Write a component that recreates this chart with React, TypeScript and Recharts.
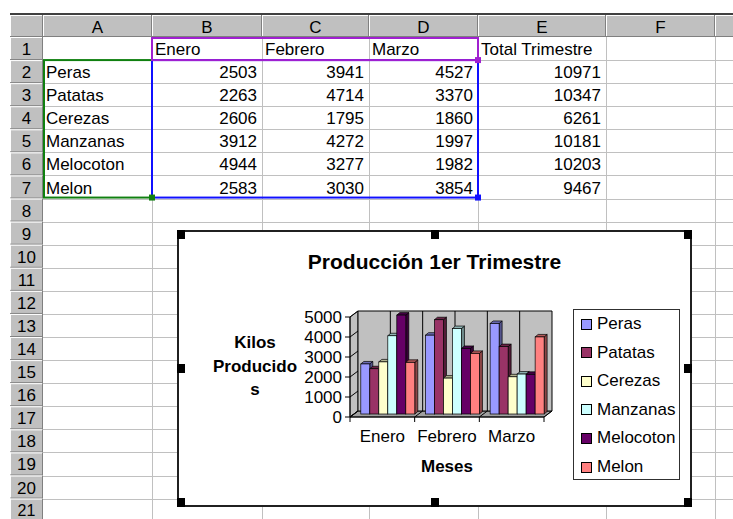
import React from 'react';
import { BarChart, Bar, XAxis, YAxis, CartesianGrid, Legend } from 'recharts';

// ---------- data ----------
const months = ['Enero', 'Febrero', 'Marzo'];
const products = ['Peras', 'Patatas', 'Cerezas', 'Manzanas', 'Melocoton', 'Melon'];
const eneroValues = [2503, 2263, 2606, 3912, 4944, 2583];
const febreroValues = [3941, 4714, 1795, 4272, 3277, 3030];
const marzoValues = [4527, 3370, 1860, 1997, 1982, 3854];
const totalValues = [10971, 10347, 6261, 10181, 10203, 9467];
const yTicks = [0, 1000, 2000, 3000, 4000, 5000];
const columnLetters = ['A', 'B', 'C', 'D', 'E', 'F', ''];
const rowNumbers = Array.from({ length: 21 }, (_, i) => i + 1);
const seriesColors = ['#9999FF', '#993366', '#FFFFCC', '#CCFFFF', '#660066', '#FF8080'];
const chartTitle = 'Producción 1er Trimestre';
const yTitleLines = ['Kilos', 'Producido', 's'];
const xTitle = 'Meses';
const totalHeader = 'Total Trimestre';

const monthValues = [eneroValues, febreroValues, marzoValues];
const chartData = months.map((m, i) => {
  const row: Record<string, string | number> = { month: m };
  products.forEach((p, j) => {
    row[p] = monthValues[i][j];
  });
  return row;
});

// ---------- layout ----------
const FONT = '"Liberation Sans", Arial, sans-serif';
const COL_EDGES = [10, 43, 152, 262, 369, 478, 606, 715, 760];
const HEADER_TOP = 15;
const HEADER_BOTTOM = 37;
const ROW_H = 23.08;
const rowTop = (r: number) => HEADER_BOTTOM + (r - 1) * ROW_H;

const FX = 177;
const FY = 230;
const FW = 515;
const FH = 277;
const PL = 173;
const PT = 87;
const PW = 194;
const PH = 100;
const DX = 8;
const DY = 6;
const BAR_DX = 4;
const BAR_DY = 3;
const AXIS_W = 60;
const XAXIS_H = 30;

function shade(hex: string, f: number) {
  const n = parseInt(hex.slice(1), 16);
  const r = Math.round(((n >> 16) & 255) * f);
  const g = Math.round(((n >> 8) & 255) * f);
  const b = Math.round((n & 255) * f);
  return `rgb(${r},${g},${b})`;
}

const Bar3D = (props: any) => {
  const { x, y, width, height, fill } = props;
  if (x == null || y == null || !width) return null;
  const fx = x + BAR_DX;
  const fy = y - BAR_DY;
  const d = 3;
  const d2 = 2.5;
  return (
    <g>
      <polygon
        points={`${fx + width},${fy} ${fx + width + d},${fy - d2} ${fx + width + d},${fy + height - d2} ${fx + width},${fy + height}`}
        fill={shade(fill, 0.55)}
        stroke="#000"
        strokeWidth={0.7}
      />
      <polygon
        points={`${fx},${fy} ${fx + d},${fy - d2} ${fx + width + d},${fy - d2} ${fx + width},${fy}`}
        fill={shade(fill, 0.7)}
        stroke="#000"
        strokeWidth={0.7}
      />
      <rect x={fx} y={fy} width={width} height={height} fill={fill} stroke="#000" strokeWidth={0.7} />
    </g>
  );
};

const YTick = (props: any) => {
  const { x, y, payload } = props;
  return (
    <g>
      <line x1={x} y1={y} x2={x + DX} y2={y - DY} stroke="#000" strokeWidth={1} />
      <line x1={x - 5} y1={y} x2={x} y2={y} stroke="#000" strokeWidth={1} />
      <text x={x - 8} y={y} textAnchor="end" dominantBaseline="central" fontSize={17} fontFamily={FONT} fill="#000">
        {payload.value}
      </text>
    </g>
  );
};

const XTick = (props: any) => {
  const { x, y, payload, index } = props;
  const off =
    payload && typeof payload.offset === 'number' && payload.offset > 0 ? payload.offset : PW / months.length / 2;
  const bounds = [x - off];
  if (index === months.length - 1) bounds.push(x + off);
  return (
    <g>
      {bounds.map((bx, i) => (
        <g key={i}>
          <line x1={bx} y1={y} x2={bx + DX} y2={y - DY} stroke="#000" strokeWidth={1} />
          <line x1={bx} y1={y} x2={bx} y2={y + 5} stroke="#000" strokeWidth={1} />
        </g>
      ))}
      <text x={x} y={y + 19} textAnchor="middle" dominantBaseline="central" fontSize={17} fontFamily={FONT} fill="#000">
        {payload.value}
      </text>
    </g>
  );
};

const LegendBox = (props: any) => {
  const payload = [...(props.payload || [])].sort(
    (a: any, b: any) => products.indexOf(String(a.value)) - products.indexOf(String(b.value))
  );
  return (
    <div
      style={{
        position: 'relative',
        width: 107,
        height: 171,
        border: '1px solid #303030',
        boxSizing: 'border-box',
        background: '#fff',
        fontFamily: FONT,
        fontSize: 17,
      }}
    >
      {payload.map((item: any, i: number) => (
        <div
          key={i}
          style={{ position: 'absolute', left: 7, top: 14 + i * 28.6 - 10, height: 20, display: 'flex', alignItems: 'center' }}
        >
          <span
            style={{
              display: 'inline-block',
              width: 9,
              height: 9,
              background: item.color,
              border: '1px solid #000',
              marginRight: 5,
            }}
          />
          <span style={{ color: '#000', lineHeight: '20px' }}>{item.value}</span>
        </div>
      ))}
    </div>
  );
};

function Sheet() {
  const els: React.ReactNode[] = [];
  const W = 733;
  els.push(<rect key="topline" x={COL_EDGES[0]} y={13} width={W} height={2} fill="#404040" />);
  for (let c = 0; c < COL_EDGES.length - 1; c++) {
    const x0 = COL_EDGES[c];
    const x1 = COL_EDGES[c + 1];
    els.push(
      <g key={`ch${c}`}>
        <rect x={x0} y={HEADER_TOP} width={x1 - x0} height={HEADER_BOTTOM - HEADER_TOP} fill="#c0c0c0" />
        <line x1={x0} y1={HEADER_TOP + 0.5} x2={x1} y2={HEADER_TOP + 0.5} stroke="#fff" />
        <line x1={x0 + 0.5} y1={HEADER_TOP} x2={x0 + 0.5} y2={HEADER_BOTTOM} stroke="#fff" />
        <line x1={x1 - 0.5} y1={HEADER_TOP} x2={x1 - 0.5} y2={HEADER_BOTTOM} stroke="#808080" />
        <line x1={x0} y1={HEADER_BOTTOM - 0.5} x2={x1} y2={HEADER_BOTTOM - 0.5} stroke="#808080" />
        {c > 0 && (
          <text
            x={(x0 + x1) / 2}
            y={(HEADER_TOP + HEADER_BOTTOM) / 2 + 1}
            textAnchor="middle"
            dominantBaseline="central"
            fontSize={17}
            fontFamily={FONT}
            fill="#000"
          >
            {columnLetters[c - 1]}
          </text>
        )}
      </g>
    );
  }
  rowNumbers.forEach((r) => {
    const y0 = rowTop(r);
    const y1 = y0 + ROW_H;
    const x0 = COL_EDGES[0];
    const x1 = COL_EDGES[1];
    els.push(
      <g key={`rh${r}`}>
        <rect x={x0} y={y0} width={x1 - x0} height={ROW_H} fill="#c0c0c0" />
        <line x1={x0} y1={y0 + 0.5} x2={x1} y2={y0 + 0.5} stroke="#fff" />
        <line x1={x0 + 0.5} y1={y0} x2={x0 + 0.5} y2={y1} stroke="#fff" />
        <line x1={x1 - 0.5} y1={y0} x2={x1 - 0.5} y2={y1} stroke="#808080" />
        <line x1={x0} y1={y1 - 0.5} x2={x1} y2={y1 - 0.5} stroke="#808080" />
        <text
          x={(x0 + x1) / 2}
          y={y0 + ROW_H / 2 + (r === 21 ? 0 : 1)}
          textAnchor="middle"
          dominantBaseline="central"
          fontSize={r === 21 ? 16 : 17}
          fontFamily={FONT}
          fill="#000"
        >
          {r}
        </text>
      </g>
    );
  });
  for (let c = 2; c < COL_EDGES.length - 1; c++) {
    els.push(
      <line key={`gv${c}`} x1={COL_EDGES[c] + 0.5} y1={HEADER_BOTTOM} x2={COL_EDGES[c] + 0.5} y2={519} stroke="#c0c0c0" />
    );
  }
  rowNumbers.forEach((r) => {
    const y = Math.round(rowTop(r) + ROW_H) + 0.5;
    els.push(<line key={`gh${r}`} x1={COL_EDGES[1]} y1={y} x2={W} y2={y} stroke="#c0c0c0" />);
  });
  const cellText = (key: string, txt: string | number, col: number, row: number, align: 'left' | 'right') => {
    const x0 = COL_EDGES[col + 1];
    const x1 = COL_EDGES[col + 2];
    const y = rowTop(row) + ROW_H / 2 + 1;
    els.push(
      <text
        key={key}
        x={align === 'left' ? x0 + 3 : x1 - 5}
        y={y}
        textAnchor={align === 'left' ? 'start' : 'end'}
        dominantBaseline="central"
        fontSize={17}
        fontFamily={FONT}
        fill="#000"
      >
        {txt}
      </text>
    );
  };
  months.forEach((m, i) => cellText(`m${i}`, m, 1 + i, 1, 'left'));
  cellText('tot', totalHeader, 4, 1, 'left');
  products.forEach((p, j) => {
    cellText(`p${j}`, p, 0, j + 2, 'left');
    monthValues.forEach((vals, i) => cellText(`v${i}-${j}`, vals[j], 1 + i, j + 2, 'right'));
    cellText(`t${j}`, totalValues[j], 4, j + 2, 'right');
  });
  const r1t = rowTop(1);
  const r2t = rowTop(2);
  const r7b = rowTop(8) - 1;
  els.push(
    <rect key="selA" x={COL_EDGES[1] + 1} y={r2t} width={COL_EDGES[2] - COL_EDGES[1] - 1} height={r7b - r2t} fill="none" stroke="#108010" strokeWidth={2} />
  );
  els.push(
    <rect key="selB" x={COL_EDGES[2]} y={r2t} width={COL_EDGES[5] - COL_EDGES[2]} height={r7b - r2t} fill="none" stroke="#1010ff" strokeWidth={2} />
  );
  els.push(
    <rect key="selH" x={COL_EDGES[2]} y={r1t + 1} width={COL_EDGES[5] - COL_EDGES[2]} height={r2t - r1t - 1} fill="none" stroke="#a020d0" strokeWidth={2} />
  );
  els.push(<rect key="hA" x={COL_EDGES[2] - 3} y={r7b - 3} width={6} height={6} fill="#108010" />);
  els.push(<rect key="hB" x={COL_EDGES[5] - 3} y={r7b - 3} width={6} height={6} fill="#1010ff" />);
  els.push(<rect key="hH" x={COL_EDGES[5] - 3} y={r2t - 3} width={6} height={6} fill="#a020d0" />);
  return (
    <svg width={733} height={519} style={{ position: 'absolute', left: 0, top: 0 }}>
      <rect x={0} y={0} width={733} height={519} fill="#fff" />
      {els}
    </svg>
  );
}

export default function App() {
  const handles = [
    [0, 0],
    [254, 0],
    [FW - 8, 0],
    [0, 134],
    [FW - 8, 134],
    [0, FH - 9],
    [254, FH - 9],
    [FW - 8, FH - 9],
  ];
  const PB = PT + PH;
  const PR = PL + PW;
  return (
    <div style={{ position: 'absolute', left: 0, top: 0, width: 733, height: 519, overflow: 'hidden', background: '#fff', fontFamily: FONT }}>
      <Sheet />
      <div style={{ position: 'absolute', left: FX, top: FY, width: FW, height: FH, background: '#fff' }}>
        <svg width={FW} height={FH} style={{ position: 'absolute', left: 0, top: 0 }}>
          <polygon points={`${PL},${PT} ${PL + DX},${PT - DY} ${PL + DX},${PB - DY} ${PL},${PB}`} fill="#c0c0c0" stroke="#000" strokeWidth={0.8} />
          <polygon points={`${PL},${PB} ${PL + DX},${PB - DY} ${PR + DX},${PB - DY} ${PR},${PB}`} fill="#a0a0a0" stroke="#000" strokeWidth={0.8} />
        </svg>
        <div style={{ position: 'absolute', left: DX, top: -DY }}>
          <BarChart width={FW} height={FH} data={chartData} margin={{ top: PT, right: FW - PL - PW, bottom: FH - PT - PH, left: PL }}>
            <CartesianGrid
              fill="#c0c0c0"
              fillOpacity={1}
              stroke="#000"
              strokeWidth={1}
              verticalCoordinatesGenerator={({ offset }: any) =>
                [0, 1, 2, 3, 4, 5, 6].map((i) => offset.left + (offset.width * i) / 6)
              }
            />
            <XAxis dataKey="month" hide />
            <YAxis type="number" domain={[0, 5000]} ticks={yTicks} hide />
          </BarChart>
        </div>
        <div style={{ position: 'absolute', left: 0, top: 0 }}>
          <BarChart
            width={FW}
            height={FH}
            data={chartData}
            barGap={0}
            barCategoryGap={6.8}
            margin={{ top: PT, right: FW - PL - PW, bottom: FH - PT - PH - XAXIS_H, left: PL - AXIS_W }}
          >
            <XAxis
              dataKey="month"
              interval={0}
              height={XAXIS_H}
              tickLine={false}
              tickSize={0}
              tickMargin={0}
              axisLine={{ stroke: '#000', strokeWidth: 1 }}
              tick={<XTick />}
            />
            <YAxis
              type="number"
              domain={[0, 5000]}
              ticks={yTicks}
              interval={0}
              width={AXIS_W}
              tickLine={false}
              tickSize={0}
              tickMargin={0}
              axisLine={{ stroke: '#000', strokeWidth: 1 }}
              tick={<YTick />}
            />
            {products.map((p, i) => (
              <Bar key={p} dataKey={p} name={p} fill={seriesColors[i]} shape={<Bar3D />} isAnimationActive={false} />
            ))}
            <Legend
              layout="vertical"
              align="center"
              verticalAlign="middle"
              wrapperStyle={{ left: 396, top: 79, width: 107 }}
              content={<LegendBox />}
            />
          </BarChart>
        </div>
        <div style={{ position: 'absolute', left: 0, top: 18, width: FW, textAlign: 'center', fontWeight: 'bold', fontSize: 21, lineHeight: '28px', color: '#000' }}>
          {chartTitle}
        </div>
        <div style={{ position: 'absolute', left: 18, top: 101, width: 120, textAlign: 'center', fontWeight: 'bold', fontSize: 17, lineHeight: '23.5px', color: '#000' }}>
          {yTitleLines.map((l, i) => (
            <div key={i}>{l}</div>
          ))}
        </div>
        <div style={{ position: 'absolute', left: PL, top: 225, width: PW, textAlign: 'center', fontWeight: 'bold', fontSize: 17, lineHeight: '24px', color: '#000' }}>
          {xTitle}
        </div>
        <div style={{ position: 'absolute', left: 0, top: 0, width: FW, height: FH, border: '2px solid #202020', boxSizing: 'border-box', pointerEvents: 'none' }} />
        {handles.map(([hx, hy], i) => (
          <div key={i} style={{ position: 'absolute', left: hx, top: hy, width: 8, height: 9, background: '#000' }} />
        ))}
      </div>
    </div>
  );
}
